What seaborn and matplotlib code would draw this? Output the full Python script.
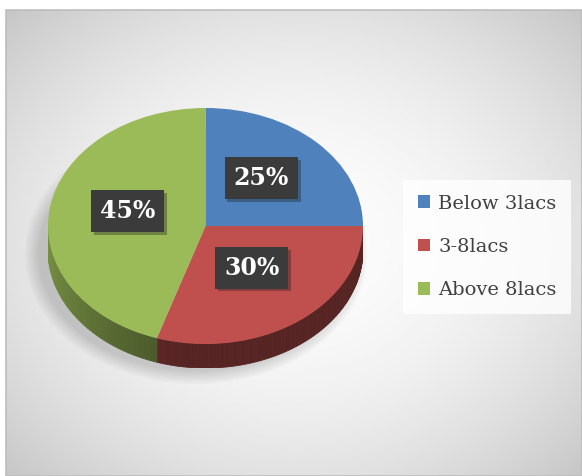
import numpy as np
import matplotlib
matplotlib.use("Agg")
import matplotlib.pyplot as plt
import matplotlib.patheffects as pe
from matplotlib.patches import Rectangle, Ellipse, Polygon
import seaborn as sns

# data
categories = ["Below 3lacs", "3-8lacs", "Above 8lacs"]
shares = [25, 30, 45]
slice_colors = ["#4f81bd", "#c0504d", "#9bbb59"]

sns.set_theme(style="white")
plt.rcParams["font.family"] = ["DejaVu Serif"]

W, H = 582, 476
fig = plt.figure(figsize=(W / 100, H / 100), dpi=100)
fig.patch.set_facecolor("white")

# chart area background (radial grey gradient)
bg = fig.add_axes([0, 0, 1, 1])
x0, y0 = 6, 10
xx, yy = np.meshgrid(np.linspace(x0, W, 300), np.linspace(y0, H, 250))
r2 = ((xx - 294) / 288) ** 2 + ((yy - 243) / 233) ** 2
shade = np.clip(252 - 27 * r2, 0, 255) / 255
bg.imshow(shade, cmap="gray", vmin=0, vmax=1, extent=(x0, W, H, y0),
          aspect="auto", interpolation="bilinear")
bg.add_patch(Rectangle((x0, y0), W - x0, H - y0, fill=False, edgecolor="#bdbdbd", lw=1.2))
bg.set_xlim(0, W)
bg.set_ylim(H, 0)
bg.axis("off")

# pie as a tilted disc: squash a normal pie into an ellipse
cx, cy, rx, ry, depth = 205.5, 226, 157.5, 118, 24
dd = depth / ry
pax = fig.add_axes([(cx - rx) / W, 1 - (cy + ry + depth) / H, 2 * rx / W, (2 * ry + depth) / H])
pax.patch.set_alpha(0)
wedges, _, pct = pax.pie(shares, colors=slice_colors, startangle=90, counterclock=False,
                         autopct="%1.0f%%", pctdistance=0.5,
                         textprops=dict(color="white", fontsize=17, fontweight="bold"),
                         wedgeprops=dict(linewidth=0))
pax.set_aspect("auto")
pax.set_xlim(-1, 1)
pax.set_ylim(-1 - dd, 1)
pax.axis("off")

# soft shadow behind the disc, falling to the lower left
for k in range(8):
    pax.add_patch(Ellipse((-0.06, -dd - 0.03), 2 + 0.025 * k, 2 + 0.03 * k,
                          facecolor="k", alpha=0.025, lw=0, clip_on=False, zorder=0))

# side wall of the disc (front half only), darker with a little shading
for w, col in zip(wedges, slice_colors):
    base = np.array(matplotlib.colors.to_rgb(col))
    for off in (-360, 0, 360):
        a = max(w.theta1 + off, -180)
        b = min(w.theta2 + off, 0)
        if b <= a:
            continue
        edges = np.linspace(a, b, max(2, int(b - a) + 1))
        for t1, t2 in zip(edges[:-1], edges[1:]):
            ts = np.radians(np.linspace(t1, t2, 3))
            k = 0.45 + 0.35 * np.clip((-(t1 + t2) / 2 - 100) / 80, 0, 1)
            top = np.column_stack([np.cos(ts), np.sin(ts)])
            bot = top[::-1] - [0, dd]
            c = base * k
            pax.add_patch(Polygon(np.vstack([top, bot]), closed=True, facecolor=c,
                                  edgecolor=c, lw=0.6, zorder=0.5))

# percentage labels in dark boxes
for t in pct:
    x, y = t.get_position()
    t.set_position((x, y + 6 / ry))
    t.set_bbox(dict(boxstyle="square,pad=0.38", facecolor="#3b3b3b", edgecolor="none"))
    t.get_bbox_patch().set_path_effects([
        pe.withSimplePatchShadow(offset=(2, -2), shadow_rgbFace="k", alpha=0.35), pe.Normal()])

# legend
handles = [Rectangle((0, 0), 1, 1, facecolor=c, edgecolor="none") for c in slice_colors]
leg = fig.legend(handles, categories, loc="upper left",
                 bbox_to_anchor=(403 / W, 1 - 180 / H), bbox_transform=fig.transFigure,
                 borderaxespad=0, frameon=True, fancybox=False, fontsize=14,
                 handlelength=0.62, handleheight=0.62, handletextpad=0.45,
                 labelspacing=1.3, borderpad=0.75)
leg.get_frame().set_facecolor((1, 1, 1, 0.25))
leg.get_frame().set_edgecolor("none")
for txt in leg.get_texts():
    txt.set_color("#404040")

fig.savefig("out.png", dpi=100)
